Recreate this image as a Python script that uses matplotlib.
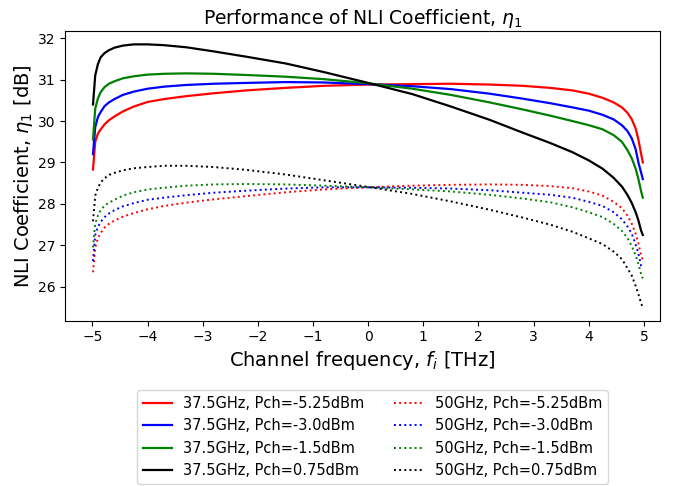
import numpy as np
import matplotlib
matplotlib.use("Agg")
import matplotlib.pyplot as plt

# channel frequency grid [THz]
freq = [-4.99, -4.95, -4.9, -4.85, -4.78, -4.7, -4.6, -4.45, -4.25, -4.0, -3.7,
        -3.3, -2.8, -2.2, -1.5, -0.8, 0.0, 0.8, 1.5, 2.2, 2.8, 3.3, 3.7, 4.0,
        4.25, 4.45, 4.6, 4.7, 4.78, 4.85, 4.9, 4.95, 4.98]

# 37.5 GHz spacing
eta_375_m525 = [28.83, 29.5, 29.7, 29.8, 29.92, 30.02, 30.11, 30.23, 30.35, 30.46, 30.53,
                30.6, 30.67, 30.74, 30.8, 30.85, 30.88, 30.89, 30.9, 30.88, 30.85, 30.8, 30.74, 30.66,
                30.56, 30.45, 30.33, 30.2, 30.04, 29.82, 29.55, 29.2, 29.0]
eta_375_m30 = [29.2, 29.85, 30.1, 30.22, 30.36, 30.45, 30.53, 30.63, 30.71, 30.78, 30.83,
               30.87, 30.9, 30.92, 30.94, 30.93, 30.89, 30.84, 30.77, 30.66, 30.54, 30.43, 30.33, 30.25,
               30.15, 30.04, 29.9, 29.76, 29.58, 29.32, 29.0, 28.75, 28.6]
eta_375_m15 = [29.55, 30.3, 30.55, 30.7, 30.82, 30.9, 30.96, 31.03, 31.08, 31.12, 31.14,
               31.15, 31.14, 31.11, 31.07, 31.01, 30.91, 30.78, 30.63, 30.45, 30.28, 30.13, 30.0, 29.9,
               29.8, 29.66, 29.5, 29.3, 29.1, 28.85, 28.6, 28.3, 28.15]
eta_375_p075 = [30.4, 31.1, 31.38, 31.54, 31.64, 31.71, 31.77, 31.82, 31.85, 31.85, 31.83,
                31.78, 31.68, 31.55, 31.39, 31.18, 30.92, 30.65, 30.35, 30.03, 29.72, 29.47, 29.25, 29.05,
                28.85, 28.63, 28.42, 28.22, 28.02, 27.8, 27.6, 27.35, 27.25]

# 50 GHz spacing
eta_50_m525 = [26.35, 26.95, 27.18, 27.3, 27.43, 27.52, 27.6, 27.69, 27.78, 27.87, 27.95,
               28.03, 28.11, 28.19, 28.28, 28.35, 28.4, 28.44, 28.46, 28.47, 28.46, 28.43, 28.38, 28.3,
               28.2, 28.05, 27.9, 27.72, 27.52, 27.28, 27.05, 26.75, 26.65]
eta_50_m30 = [26.62, 27.25, 27.45, 27.57, 27.68, 27.77, 27.85, 27.94, 28.02, 28.1, 28.15,
              28.21, 28.27, 28.32, 28.37, 28.4, 28.4, 28.39, 28.37, 28.33, 28.27, 28.22, 28.15, 28.05,
              27.95, 27.8, 27.63, 27.46, 27.28, 27.02, 26.8, 26.5, 26.45]
eta_50_m15 = [26.95, 27.52, 27.72, 27.85, 27.96, 28.03, 28.1, 28.2, 28.28, 28.35, 28.39,
              28.44, 28.47, 28.48, 28.47, 28.44, 28.4, 28.35, 28.3, 28.22, 28.13, 28.04, 27.92, 27.8,
              27.68, 27.52, 27.35, 27.18, 26.98, 26.76, 26.55, 26.3, 26.2]
eta_50_p075 = [27.58, 28.2, 28.39, 28.52, 28.62, 28.7, 28.75, 28.81, 28.86, 28.89, 28.92,
               28.92, 28.89, 28.82, 28.71, 28.57, 28.41, 28.24, 28.06, 27.86, 27.67, 27.5, 27.33, 27.17,
               27.03, 26.85, 26.67, 26.45, 26.27, 26.02, 25.82, 25.6, 25.5]

labels_375 = ["37.5GHz, Pch=-5.25dBm", "37.5GHz, Pch=-3.0dBm",
              "37.5GHz, Pch=-1.5dBm", "37.5GHz, Pch=0.75dBm"]
labels_50 = ["50GHz, Pch=-5.25dBm", "50GHz, Pch=-3.0dBm",
             "50GHz, Pch=-1.5dBm", "50GHz, Pch=0.75dBm"]
colors = ["red", "blue", "green", "black"]

fig = plt.figure(figsize=(6.83, 4.86), dpi=100)
ax = fig.add_axes([0.095, 0.34, 0.872, 0.596])

f = np.array(freq)
for y, lab, c in zip([eta_375_m525, eta_375_m30, eta_375_m15, eta_375_p075], labels_375, colors):
    ax.plot(f, y, color=c, lw=1.6, label=lab)
for y, lab, c in zip([eta_50_m525, eta_50_m30, eta_50_m15, eta_50_p075], labels_50, colors):
    ax.plot(f, y, color=c, lw=1.4, ls=":", label=lab)

ax.set_xlim(-5.5, 5.3)
ax.set_ylim(25.18, 32.17)
ax.set_xticks(np.arange(-5, 6, 1))
ax.set_yticks(np.arange(26, 33, 1))
ax.tick_params(labelsize=10)
ax.set_title(r"Performance of NLI Coefficient, $\eta_1$", fontsize=13.5, pad=5)
ax.set_xlabel(r"Channel frequency, $f_i$ [THz]", fontsize=14, labelpad=3)
ax.set_ylabel(r"NLI Coefficient, $\eta_1$ [dB]", fontsize=14, labelpad=2)

fig.legend(loc="upper center", bbox_to_anchor=(0.545, 0.212), ncol=2,
           fontsize=10.5, frameon=True, labelspacing=0.5)

plt.savefig("out.png", dpi=100)
